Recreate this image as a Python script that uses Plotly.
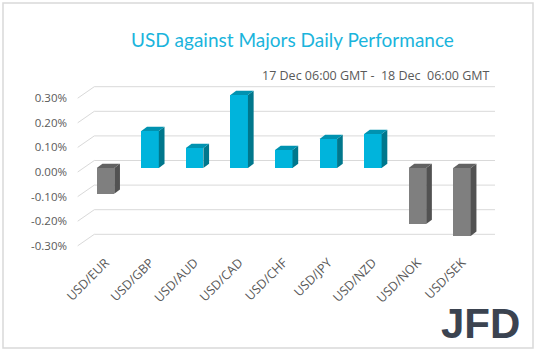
import plotly.graph_objects as go

# ---- data ----
PAIRS = ["USD/EUR", "USD/GBP", "USD/AUD", "USD/CAD", "USD/CHF",
         "USD/JPY", "USD/NZD", "USD/NOK", "USD/SEK"]
CHANGE_PCT = [-0.105, 0.150, 0.081, 0.297, 0.073, 0.118, 0.138, -0.228, -0.276]
TICK_VALUES = [-0.30, -0.20, -0.10, 0.00, 0.10, 0.20, 0.30]
TICK_LABELS = ["-0.30%", "-0.20%", "-0.10%", "0.00%", "0.10%", "0.20%", "0.30%"]
TITLE = "USD against Majors Daily Performance"
SUBTITLE = "17 Dec 06:00 GMT -\u00a0 18 Dec\u00a0 06:00 GMT"

# ---- styling / geometry ----
W, H = 538, 352
ML, MR, MT, MB = 74, 38, 80, 102
PX_PER_X = 44.56        # pixels per category step
PX_PER_Y = 246.0        # pixels per 1 percentage point
X0_PX, Y0_PX = 105.5, 168.0
BAR_W = 0.393
DX = 5.7 / PX_PER_X     # depth offset (x)
DY = 4.3 / PX_PER_Y     # depth offset (y)

POS = dict(front="#00B4DC", top="#0092B0", side="#00778C")
NEG = dict(front="#7F7F7F", top="#626262", side="#525252")
GRID = "#D9D9D9"
TEXT = "#595959"

xr = [(ML - X0_PX) / PX_PER_X, (W - MR - X0_PX) / PX_PER_X]
yr = [-(H - MB - Y0_PX) / PX_PER_Y, (Y0_PX - MT) / PX_PER_Y]

xs = list(range(len(PAIRS)))
fig = go.Figure()

# back grid lines with diagonal connectors to the labels
shapes = []
g_back = 7.5 / PX_PER_Y
g_front = -4.0 / PX_PER_Y
x_back0 = (94.3 - X0_PX) / PX_PER_X
x_back1 = (495 - X0_PX) / PX_PER_X
x_front = (77.7 - X0_PX) / PX_PER_X
for v in TICK_VALUES:
    shapes.append(dict(type="line", xref="x", yref="y", x0=x_back0, x1=x_back1,
                       y0=v + g_back, y1=v + g_back, line=dict(color=GRID, width=1), layer="below"))
    shapes.append(dict(type="line", xref="x", yref="y", x0=x_front, x1=x_back0,
                       y0=v + g_front, y1=v + g_back, line=dict(color=GRID, width=1), layer="below"))

# side and top faces
for x, v in zip(xs, CHANGE_PCT):
    c = POS if v >= 0 else NEG
    top = max(v, 0.0)
    bot = min(v, 0.0)
    xr_ = x + BAR_W / 2
    xl_ = x - BAR_W / 2
    fig.add_trace(go.Scatter(
        x=[xr_, xr_ + DX, xr_ + DX, xr_, xr_],
        y=[bot, bot + DY, top + DY, top, bot],
        fill="toself", fillcolor=c["side"], mode="lines", line=dict(width=0),
        hoverinfo="skip", showlegend=False))
    fig.add_trace(go.Scatter(
        x=[xl_, xl_ + DX, xr_ + DX, xr_, xl_],
        y=[top, top + DY, top + DY, top, top],
        fill="toself", fillcolor=c["top"], mode="lines", line=dict(width=0),
        hoverinfo="skip", showlegend=False))

# front faces
fig.add_trace(go.Bar(
    x=xs, y=CHANGE_PCT, width=BAR_W,
    marker=dict(color=[POS["front"] if v >= 0 else NEG["front"] for v in CHANGE_PCT],
                line=dict(width=0)),
    showlegend=False))

# border
shapes.append(dict(type="rect", xref="paper", yref="paper",
                   x0=(3 - ML) / (W - ML - MR), x1=(533 - ML) / (W - ML - MR),
                   y0=(H - MB - 348) / (H - MT - MB), y1=(H - MB - 3) / (H - MT - MB),
                   line=dict(color=GRID, width=1.5), layer="below"))

pw = W - ML - MR
ph = H - MT - MB
def px(xp): return (xp - ML) / pw
def py(yp): return (H - MB - yp) / ph

annotations = [
    dict(text=TITLE, x=px(292.5), y=py(40), xref="paper", yref="paper",
         showarrow=False, xanchor="center", yanchor="middle",
         font=dict(family="Lato", size=19, color="#1AB4DC")),
    dict(text=SUBTITLE, x=px(492), y=py(75), xref="paper", yref="paper",
         showarrow=False, xanchor="right", yanchor="middle",
         font=dict(family="Open Sans", size=12.5, color=TEXT)),
    dict(text="<b>JFD</b>", x=px(522), y=py(323), xref="paper", yref="paper",
         showarrow=False, xanchor="right", yanchor="middle",
         font=dict(family="Liberation Sans", size=42, color="#3B4350")),
]

fig.update_layout(
    width=W, height=H,
    margin=dict(l=ML, r=MR, t=MT, b=MB, pad=0),
    paper_bgcolor="white", plot_bgcolor="white",
    shapes=shapes, annotations=annotations,
    bargap=0,
    xaxis=dict(range=xr, tickmode="array", tickvals=xs, ticktext=PAIRS,
               tickangle=-45, showgrid=False, zeroline=False, showline=False,
               ticks="", ticklabelstandoff=2,
               tickfont=dict(family="Open Sans", size=12.5, color=TEXT)),
    yaxis=dict(range=yr, tickmode="array",
               tickvals=[v + g_front for v in TICK_VALUES], ticktext=TICK_LABELS,
               showgrid=False, zeroline=False, showline=False, ticks="",
               ticklabelstandoff=6,
               tickfont=dict(family="Open Sans", size=11.5, color=TEXT)),
)

fig.write_html("out.html")
